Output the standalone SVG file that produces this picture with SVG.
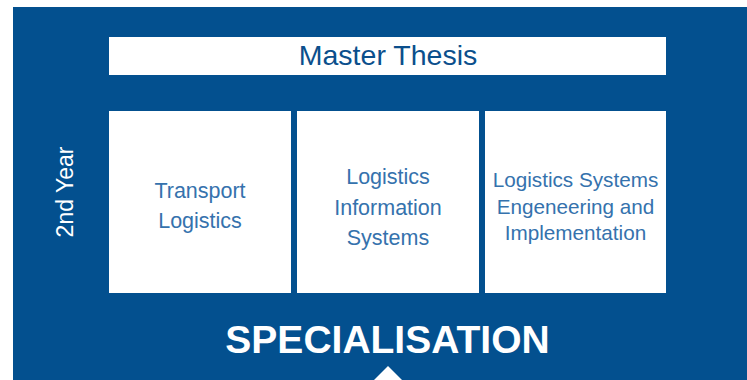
<svg xmlns="http://www.w3.org/2000/svg" width="747" height="380" viewBox="0 0 747 380">
<style>
.box{fill:#ffffff}
.lbl{font-family:"Liberation Sans",Arial,sans-serif;font-size:21.5px;fill:#3572ad;text-anchor:middle}
.lbl3{font-size:20.7px}
.title{font-family:"Liberation Sans",Arial,sans-serif;font-size:28.5px;fill:#0b4f8c;text-anchor:middle}
.white{font-family:"Liberation Sans",Arial,sans-serif;fill:#ffffff;text-anchor:middle}
</style>
<rect x="0" y="0" width="747" height="380" fill="#ffffff"/>
<rect id="background" x="13" y="7" width="734" height="373" fill="#03508f"/>
<g id="master-thesis">
<rect class="box" x="109" y="37" width="557" height="38"/>
<text class="title" x="388" y="65">Master Thesis</text>
</g>
<g id="transport-logistics">
<rect class="box" x="109" y="111" width="182" height="182"/>
<text class="lbl" x="200" y="198">Transport</text>
<text class="lbl" x="200" y="228">Logistics</text>
</g>
<g id="logistics-information-systems">
<rect class="box" x="297" y="111" width="182" height="182"/>
<text class="lbl" x="388" y="184">Logistics</text>
<text class="lbl" x="388" y="214.5">Information</text>
<text class="lbl" x="388" y="245">Systems</text>
</g>
<g id="logistics-systems-engineering">
<rect class="box" x="485" y="111" width="181" height="182"/>
<text class="lbl lbl3" x="575.5" y="187">Logistics Systems</text>
<text class="lbl lbl3" x="575.5" y="214">Engeneering and</text>
<text class="lbl lbl3" x="575.5" y="240">Implementation</text>
</g>
<g id="year-label">
<text class="white" font-size="23" transform="translate(73 192) rotate(-90)">2nd Year</text>
</g>
<g id="specialisation">
<text class="white" font-size="39" font-weight="bold" x="387.5" y="353">SPECIALISATION</text>
</g>
<g id="connectors">
<polygon points="374,380 388,366 402,380" fill="#ffffff"/>
</g>
</svg>
